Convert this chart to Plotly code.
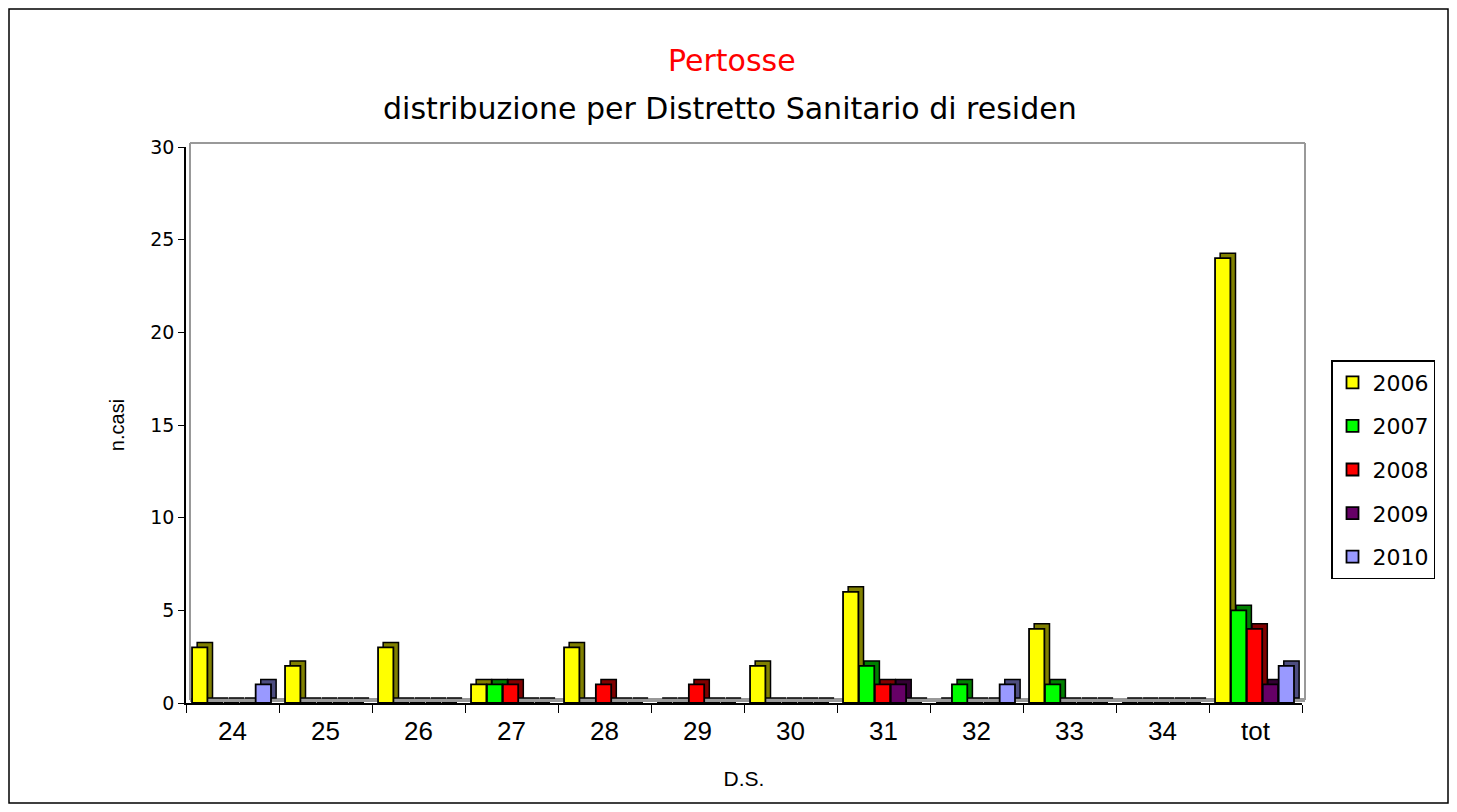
import plotly.graph_objects as go

categories = ["24", "25", "26", "27", "28", "29", "30", "31", "32", "33", "34", "tot"]
years = ["2006", "2007", "2008", "2009", "2010"]
v2006 = [3, 2, 3, 1, 3, 0, 2, 6, 0, 4, 0, 24]
v2007 = [0, 0, 0, 1, 0, 0, 0, 2, 1, 1, 0, 5]
v2008 = [0, 0, 0, 1, 1, 1, 0, 1, 0, 0, 0, 4]
v2009 = [0, 0, 0, 0, 0, 0, 0, 1, 0, 0, 0, 1]
v2010 = [1, 0, 0, 0, 0, 0, 0, 0, 1, 0, 0, 2]
series = [v2006, v2007, v2008, v2009, v2010]
colors = ["#FFFF00", "#00FF00", "#FF0000", "#660066", "#9999FF"]
dark_colors = ["#808000", "#008000", "#800000", "#330033", "#4D4D80"]

fig = go.Figure()
BAR_W = 0.165
BAR_STEP = 0.171
DEPTH_X = 0.055   # pseudo-3D depth (category units)
DEPTH_Y = 0.27    # pseudo-3D depth (value units)

# depth faces (drawn first, behind the fronts)
for i, (name, vals, dcol) in enumerate(zip(years, series, dark_colors)):
    fig.add_trace(go.Bar(
        x=categories, y=vals, base=DEPTH_Y, name=name, legendgroup=name,
        showlegend=False, hoverinfo="skip",
        width=BAR_W, offset=-0.435 + i * BAR_STEP + DEPTH_X,
        marker=dict(color=dcol, line=dict(color="black", width=1.5)),
    ))
# front faces
for i, (name, vals, col) in enumerate(zip(years, series, colors)):
    fig.add_trace(go.Bar(
        x=categories, y=vals, name=name, legendgroup=name,
        width=BAR_W, offset=-0.435 + i * BAR_STEP,
        marker=dict(color=col, line=dict(color="black", width=1.8)),
    ))

# page has an 8px body margin: figure is placed at (8, 8)
OFF = 8
W, H = 1457 - 2 * OFF, 812 - 2 * OFF
L, T = 186 - OFF, 147 - OFF
pw, ph = 1116, 556
R = W - L - pw
B = H - T - ph

def px(x):
    return (x - OFF - L) / pw

def py(y):
    return (H - B - (y - OFF)) / ph

shapes = [
    dict(type="rect", xref="paper", yref="paper", x0=px(9), x1=px(1448), y0=py(803), y1=py(9),
         line=dict(color="black", width=1.5), layer="below"),
    dict(type="line", xref="paper", yref="paper", x0=px(190), x1=px(1305), y0=py(143), y1=py(143),
         line=dict(color="#999999", width=2), layer="below"),
    dict(type="line", xref="paper", yref="paper", x0=px(1305), x1=px(1305), y0=py(143), y1=py(700),
         line=dict(color="#999999", width=2), layer="below"),
    dict(type="line", xref="paper", yref="paper", x0=px(190), x1=px(190), y0=py(143), y1=py(700),
         line=dict(color="#999999", width=2), layer="below"),
    dict(type="line", xref="paper", yref="paper", x0=px(190), x1=px(1305), y0=py(700), y1=py(700),
         line=dict(color="#999999", width=4), layer="below"),
]

TITLE_FONT = "DejaVu Sans, Noto Sans, sans-serif"
annotations = [
    dict(text="Pertosse", xref="paper", yref="paper", x=px(732), y=py(60),
         xanchor="center", yanchor="middle", showarrow=False,
         font=dict(color="red", size=30, family=TITLE_FONT)),
    dict(text="distribuzione per Distretto Sanitario di residen", xref="paper", yref="paper",
         x=px(730), y=py(109), xanchor="center", yanchor="middle", showarrow=False,
         font=dict(color="black", size=30, family=TITLE_FONT)),
]

fig.update_layout(
    width=W, height=H,
    margin=dict(l=L, r=R, t=T, b=B, autoexpand=False),
    paper_bgcolor="white", plot_bgcolor="white",
    barmode="group",
    font=dict(family="Liberation Sans, Arial, sans-serif", color="black"),
    showlegend=True,
    legend=dict(x=px(1331), y=py(360), xanchor="left", yanchor="top",
                bordercolor="black", borderwidth=1.5, bgcolor="white",
                font=dict(size=22, family="DejaVu Sans, sans-serif"),
                itemwidth=30, tracegroupgap=12, traceorder="grouped"),
    shapes=shapes,
    annotations=annotations,
    xaxis=dict(
        type="category", tickson="boundaries", ticks="outside", ticklen=8,
        tickcolor="black", showline=True, linecolor="black", linewidth=1.5,
        tickfont=dict(size=26), showgrid=False, automargin=False, ticklabelstandoff=4,
        title=dict(text="D.S.", font=dict(size=21), standoff=26),
    ),
    yaxis=dict(
        range=[0, 30], dtick=5, ticks="outside", ticklen=6, tickcolor="black",
        showline=True, linecolor="black", linewidth=1.5, showgrid=False, zeroline=False,
        tickfont=dict(size=19, family="DejaVu Sans, sans-serif"), automargin=False,
        title=dict(text="n.casi", font=dict(size=20), standoff=20),
    ),
)

fig.write_html("out.html")
